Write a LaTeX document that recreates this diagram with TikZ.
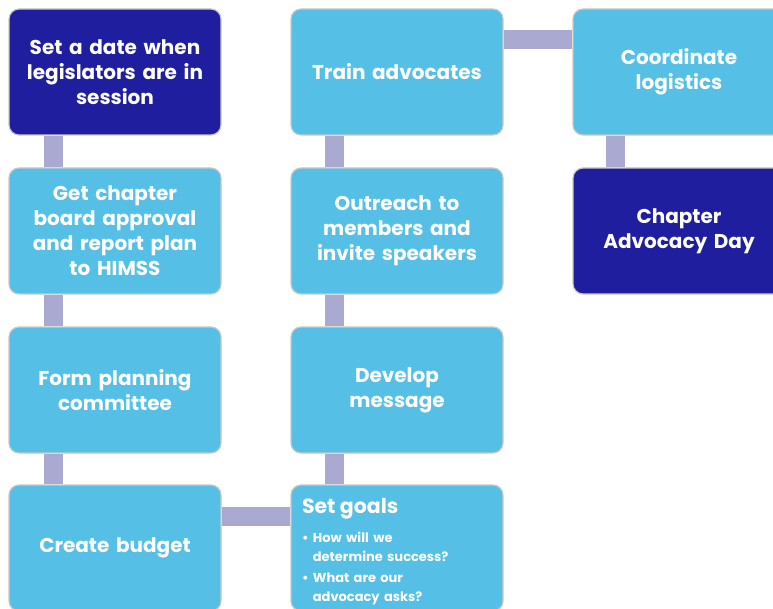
\documentclass[tikz,border=0pt]{standalone}
\usepackage{fontspec}
\setmainfont{Poppins}
\usepackage{xcolor}
\definecolor{darkbox}{HTML}{1E1E9E}
\definecolor{lightbox}{HTML}{55BFE6}
\definecolor{linkcol}{HTML}{A9A9D1}
\definecolor{edge}{HTML}{C8C8C8}

\begin{document}
\begin{tikzpicture}[x=1pt, y=1pt,
    stepbox/.style={rectangle, rounded corners=10pt, draw=edge, line width=1.2pt, fill=lightbox,
        minimum width=212pt, minimum height=126pt, text width=196pt, align=center,
        text=white, font=\bfseries\fontsize{20}{25}\selectfont},
    darkstep/.style={stepbox, fill=darkbox},
    linkbar/.style={draw=linkcol, line width=19pt}]
\useasboundingbox (0,0) rectangle (773,-609);
\clip (0,0) rectangle (773,-609);
% first column
\node[darkstep] (date) at (115,-72) {Set a date when\\ legislators are in\\ session};
\node[stepbox] (approval) at (115,-231) {Get chapter\\ board approval\\ and report plan\\ to HIMSS};
\node[stepbox] (committee) at (115,-390) {Form planning\\ committee};
\node[stepbox] (budget) at (115,-548) {Create budget};
% second column
\node[stepbox, text width=190pt, align=left, font=\bfseries\fontsize{13}{19}\selectfont] (goals) at (397,-548)
    {{\fontsize{20.5}{24}\selectfont Set goals}\\[10pt]
     \textbullet\ How will we\\
     \hphantom{\textbullet\ }determine success?\\[2pt]
     \textbullet\ What are our\\
     \hphantom{\textbullet\ }advocacy asks?\par\vspace{-8pt}};
\node[stepbox] (message) at (397,-390) {Develop\\ message};
\node[stepbox] (outreach) at (397,-231) {Outreach to\\ members and\\ invite speakers};
\node[stepbox] (train) at (397,-72) {Train advocates};
% third column
\node[stepbox] (logistics) at (679,-72) {Coordinate\\ logistics};
\node[darkstep] (day) at (679,-231) {Chapter\\ Advocacy Day};
% links
\draw[linkbar] ([xshift=-62pt]date.south) -- ([xshift=-62pt]approval.north);
\draw[linkbar] ([xshift=-62pt]approval.south) -- ([xshift=-62pt]committee.north);
\draw[linkbar] ([xshift=-62pt]committee.south) -- ([xshift=-62pt]budget.north);
\draw[linkbar] ([yshift=32pt]budget.east) -- ([yshift=32pt]goals.west);
\draw[linkbar] ([xshift=-63pt]goals.north) -- ([xshift=-63pt]message.south);
\draw[linkbar] ([xshift=-63pt]message.north) -- ([xshift=-63pt]outreach.south);
\draw[linkbar] ([xshift=-63pt]outreach.north) -- ([xshift=-63pt]train.south);
\draw[linkbar] ([yshift=32pt]train.east) -- ([yshift=32pt]logistics.west);
\draw[linkbar] ([xshift=-64pt]logistics.south) -- ([xshift=-64pt]day.north);
\end{tikzpicture}
\end{document}
